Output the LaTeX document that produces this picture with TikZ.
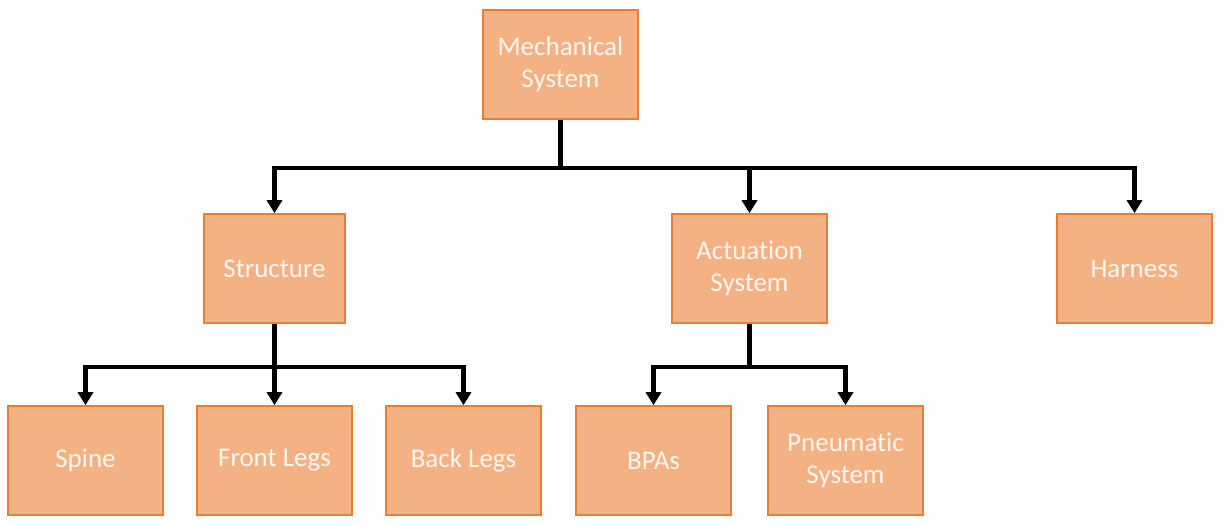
\documentclass[tikz,border=0pt]{standalone}
\usepackage{fontspec}
\setmainfont{Carlito}[Ligatures={NoCommon}]
\usetikzlibrary{arrows.meta,calc}
\definecolor{boxfill}{HTML}{F4B183}
\definecolor{boxline}{HTML}{ED7D31}
\definecolor{boxtext}{HTML}{FFF8F0}
\begin{document}
\begin{tikzpicture}[x=1pt,y=-1pt,
  box/.style={draw=boxline,fill=boxfill,line width=1.6pt,minimum width=155pt,minimum height=109pt,
    inner sep=0pt,align=center,text=boxtext,font=\fontsize{27}{32}\selectfont},
  conn/.style={line width=4.5pt,draw=black},
  arr/.style={conn,-{Triangle[width=15pt,length=13pt]}}]
\useasboundingbox (0,0) rectangle (1229,526);
\fill[white] (0,0) rectangle (1229,526);
\node[box] (mech) at (560.5,64.5) {Mechanical\\System};
\node[box,minimum width=141pt] (struct) at (274.5,268.5) {Structure};
\node[box] (act) at (749.5,268.5) {Actuation\\System};
\node[box] (harn) at (1134.5,268.5) {Harness};
\node[box] (spine) at (85.5,460.5) {Spine};
\node[box] (front) at (274.5,460.5) {Front Legs};
\node[box] (back) at (463.5,460.5) {Back Legs};
\node[box] (bpa) at (653.5,460.5) {BPAs};
\node[box] (pneu) at (845.5,460.5) {Pneumatic\\System};
\coordinate (bus1) at ($(mech.south)+(0,48)$);
\coordinate (bus2) at ($(struct.south)+(0,43)$);
\coordinate (bus3) at ($(act.south)+(0,43)$);
\draw[conn] (mech.south) -- (bus1);
\draw[arr] (bus1) -| (struct.north);
\draw[arr] (bus1) -| (act.north);
\draw[arr] (bus1) -| (harn.north);
\draw[conn] (struct.south) -- (bus2);
\draw[arr] (bus2) -| (spine.north);
\draw[arr] (bus2) -- (front.north);
\draw[arr] (bus2) -| (back.north);
\draw[conn] (act.south) -- (bus3);
\draw[arr] (bus3) -| (bpa.north);
\draw[arr] (bus3) -| (pneu.north);
\end{tikzpicture}
\end{document}
